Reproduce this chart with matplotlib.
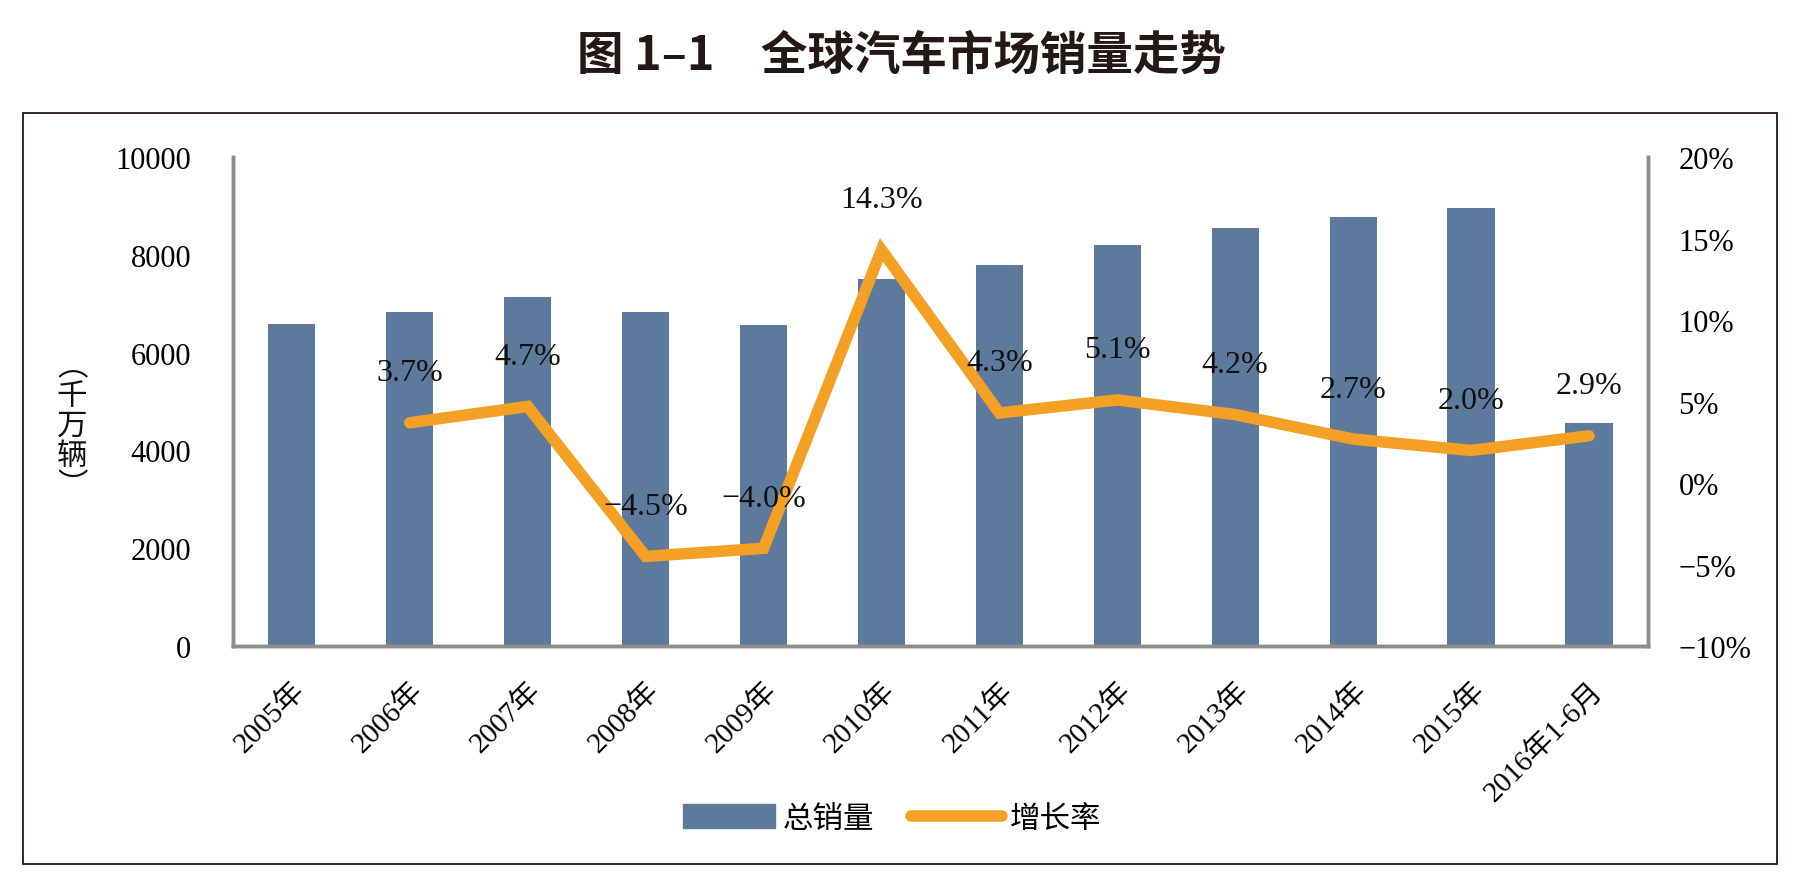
import matplotlib
matplotlib.use("Agg")
import matplotlib.pyplot as plt
from matplotlib.patches import Rectangle, Patch
from matplotlib.lines import Line2D
from matplotlib.ticker import FuncFormatter

categories = ["2005年", "2006年", "2007年", "2008年", "2009年", "2010年",
              "2011年", "2012年", "2013年", "2014年", "2015年", "2016年1-6月"]
sales = [6580, 6840, 7140, 6840, 6560, 7500, 7800, 8210, 8550, 8780, 8950, 4560]
growth_x = categories[1:]
growth = [3.7, 4.7, -4.5, -4.0, 14.3, 4.3, 5.1, 4.2, 2.7, 2.0, 2.9]
left_ticks = [0, 2000, 4000, 6000, 8000, 10000]
right_ticks = [-10, -5, 0, 5, 10, 15, 20]

BAR = "#5D7A9C"
ORANGE = "#F4A025"
SPINE = "#8C8C8C"
SERIF = ["Liberation Serif", "DejaVu Serif"]
CJK = ["Noto Sans CJK SC", "DejaVu Sans"]

fig = plt.figure(figsize=(18.03, 8.78), dpi=100)
fig.patch.set_facecolor("white")

# frame
fig.add_artist(Rectangle((0.0128, 0.0148), 0.9728, 0.8552, transform=fig.transFigure,
                         fill=False, edgecolor="#231815", linewidth=1.3))

fig.text(0.5, 0.936, "图 1–1　全球汽车市场销量走势", ha="center", va="center",
         fontsize=33.5, fontweight="heavy", family=CJK, color="#231815")

ax = fig.add_axes([0.1292, 0.263, 0.7848, 0.557])
x = list(range(len(categories)))
ax.bar(x, sales, width=0.4, color=BAR, zorder=2)
ax.set_xlim(-0.5, len(categories) - 0.5)
ax.set_ylim(0, 10000)
ax.set_yticks(left_ticks)
ax.set_yticklabels([str(t) for t in left_ticks], family=SERIF, fontsize=22)
ax.tick_params(axis="y", length=0, pad=30)
ax.set_xticks(x)
ax.set_xticklabels(categories, rotation=45, ha="right", va="top",
                   rotation_mode="anchor", fontsize=21)
ax.tick_params(axis="x", length=0, pad=22)
for lbl in ax.get_xticklabels():
    lbl.set_family(["Liberation Serif", "Noto Sans CJK SC"])
ax.spines["top"].set_visible(False)
for s in ["left", "bottom", "right"]:
    ax.spines[s].set_color(SPINE)
    ax.spines[s].set_linewidth(2.5)

ax2 = ax.twinx()
gx = [categories.index(c) for c in growth_x]
ax2.plot(gx, growth, color=ORANGE, linewidth=8.3, solid_capstyle="round",
         solid_joinstyle="miter", zorder=3)
ax2.set_ylim(-10, 20)
ax2.set_yticks(right_ticks)
ax2.yaxis.set_major_formatter(FuncFormatter(lambda v, p: f"{int(v)}%".replace("-", "\u2212")))
for lbl in ax2.get_yticklabels():
    lbl.set_family(SERIF)
ax2.tick_params(axis="y", length=0, pad=22, labelsize=22)
ax2.spines["top"].set_visible(False)
for s in ["left", "bottom", "right"]:
    ax2.spines[s].set_color(SPINE)
    ax2.spines[s].set_linewidth(2.5)

for xi, g in zip(gx, growth):
    txt = f"{g:.1f}%".replace("-", "\u2212")
    ax2.annotate(txt, (xi, g), xytext=(0, 36), textcoords="offset points",
                 ha="center", va="center", family=SERIF, fontsize=23, color="#111111", zorder=4)

# vertical y label
fig.text(0.040, 0.514, "︵\n千\n万\n辆\n︶", ha="center", va="center",
         family=CJK, fontsize=22, linespacing=0.95, color="#111111")

handles = [Patch(facecolor=BAR, edgecolor=BAR),
           Line2D([0], [0], color=ORANGE, linewidth=8.3, solid_capstyle="round")]
fig.legend(handles, ["总销量", "增长率"], loc="center", bbox_to_anchor=(0.495, 0.067),
           ncol=2, frameon=False, prop={"family": CJK, "size": 22},
           handlelength=3.0, handleheight=0.8, columnspacing=1.2, handletextpad=0.25)

fig.savefig("out.png", dpi=100, facecolor="white")
